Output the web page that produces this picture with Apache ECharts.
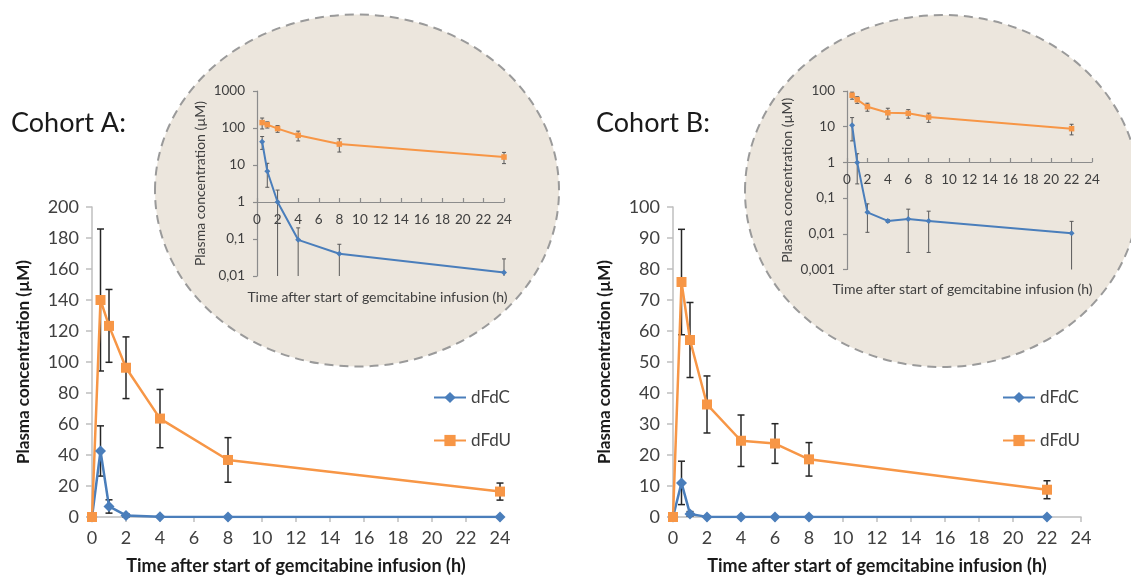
<!DOCTYPE html>
<html>
<head>
<meta charset="utf-8">
<script src="https://cdn.jsdelivr.net/npm/echarts@6/dist/echarts.min.js"></script>
<style>
html,body{margin:0;padding:0;background:#fff;}
#chart{width:1131px;height:580px;}
</style>
</head>
<body>
<div id="chart"></div>
<script>
// ---------- DATA ----------
const timesA = [0, 0.5, 1, 2, 4, 8, 24];
const dFdC_A = [0, 42.6, 6.8, 1.0, 0.095, 0.04, 0.0125];
const dFdC_A_sd = [0, 16.2, 4.3, 1.1, 0.105, 0.032, 0.0165];
const dFdU_A = [0, 140, 123.3, 96.3, 63.5, 36.8, 16.4];
const dFdU_A_sd = [0, 45.8, 23.5, 19.9, 18.8, 14.4, 5.5];

const timesB = [0, 0.5, 1, 2, 4, 6, 8, 22];
const dFdC_B = [0, 11, 1.0, 0.04, 0.023, 0.026, 0.023, 0.0103];
const dFdC_B_sd = [0, 7, 0.75, 0.029, 0.002, 0.023, 0.02, 0.012];
const dFdU_B = [0, 75.8, 57.1, 36.3, 24.6, 23.7, 18.6, 8.8];
const dFdU_B_sd = [0, 17, 12.1, 9.2, 8.3, 6.4, 5.4, 2.9];

const xTicks = [0, 2, 4, 6, 8, 10, 12, 14, 16, 18, 20, 22, 24];
const seriesNames = ['dFdC', 'dFdU'];
const titleA = 'Cohort A:';
const titleB = 'Cohort B:';
const xTitle = 'Time after start of gemcitabine infusion (h)';
const yTitle = 'Plasma concentration (µM)';

// ---------- STYLE ----------
const BLUE = '#4A7EBB', ORANGE = '#F79646';
const FONT = 'Lato';
const chart = echarts.init(document.getElementById('chart'), null, {renderer: 'canvas'});

const pairs = (ts, vs, skipZero) => ts.map((t, i) => [t, vs[i]]).filter(p => !skipZero || p[0] > 0);

function errSeries(xi, yi, ts, ms, sds, floor, cap, color, width, skipZero, z) {
  const data = [];
  ts.forEach((t, i) => {
    if (skipZero && t === 0) return;
    if (!(sds[i] > 0)) return;
    const lo = ms[i] - sds[i];
    data.push([t, floor != null ? Math.max(lo, floor) : lo, ms[i] + sds[i], (floor != null && lo <= floor) ? 1 : 0]);
  });
  return {
    type: 'custom', xAxisIndex: xi, yAxisIndex: yi, z: z, silent: true,
    encode: {x: 0, y: [1, 2]},
    data: data,
    renderItem: function (params, api) {
      const x = api.value(0);
      const top = api.coord([x, api.value(2)]);
      const bot = api.coord([x, api.value(1)]);
      const st = {stroke: color, lineWidth: width};
      const ch = [
        {type: 'line', shape: {x1: top[0], y1: top[1], x2: bot[0], y2: bot[1]}, style: st},
        {type: 'line', shape: {x1: top[0] - cap, y1: top[1], x2: top[0] + cap, y2: top[1]}, style: st}
      ];
      if (!api.value(3)) ch.push({type: 'line', shape: {x1: bot[0] - cap, y1: bot[1], x2: bot[0] + cap, y2: bot[1]}, style: st});
      return {type: 'group', children: ch};
    }
  };
}

function lineSeries(name, xi, yi, data, color, symbol, size, width) {
  return {
    name: name, type: 'line', xAxisIndex: xi, yAxisIndex: yi, data: data,
    symbol: symbol, symbolSize: size, showSymbol: true,
    lineStyle: {color: color, width: width},
    itemStyle: {color: color, borderWidth: 0},
    z: 3, emphasis: {disabled: true}
  };
}

const logFmt = v => String(Number(v.toPrecision(6))).replace('.', ',');

function mainX(gi) {
  return {
    gridIndex: gi, type: 'value', min: 0, max: 24, interval: 2,
    axisLine: {lineStyle: {color: '#BFBFBF', width: 1.5}},
    axisTick: {show: true, length: 5, lineStyle: {color: '#BFBFBF', width: 1.5}},
    axisLabel: {color: '#404040', fontSize: 18, fontFamily: FONT, margin: 12},
    splitLine: {show: false},
    name: xTitle, nameLocation: 'middle', nameGap: 40,
    nameTextStyle: {color: '#1a1a1a', fontSize: 18, fontWeight: 'bold', fontFamily: FONT}
  };
}
function mainY(gi, max, interval) {
  return {
    gridIndex: gi, type: 'value', min: 0, max: max, interval: interval,
    axisLine: {show: true, lineStyle: {color: '#BFBFBF', width: 1.5}},
    axisTick: {show: true, length: 6, lineStyle: {color: '#BFBFBF', width: 1.5}},
    axisLabel: {color: '#404040', fontSize: 18, fontFamily: FONT, margin: 13},
    splitLine: {show: false},
    name: yTitle, nameLocation: 'middle', nameGap: 60,
    nameTextStyle: {color: '#1a1a1a', fontSize: 17, fontWeight: 'bold', fontFamily: FONT}
  };
}
function insetXHidden(gi, gap, pad) {
  return {
    gridIndex: gi, type: 'value', min: 0, max: 24, interval: 2,
    axisLine: {show: false}, axisTick: {show: false}, axisLabel: {show: false}, splitLine: {show: false},
    name: xTitle, nameLocation: 'middle', nameGap: gap,
    nameTextStyle: {color: '#404040', fontSize: 14, fontFamily: FONT, padding: pad}
  };
}
function insetXShown(gi) {
  return {
    gridIndex: gi, type: 'value', min: 0, max: 24, interval: 2,
    axisLine: {lineStyle: {color: '#8C8C8C', width: 1.2}},
    axisTick: {show: true, inside: true, length: 4, lineStyle: {color: '#8C8C8C', width: 1.2}},
    axisLabel: {color: '#404040', fontSize: 13.5, fontFamily: FONT, margin: 11},
    splitLine: {show: false}
  };
}
function insetY(gi, min, max, gap) {
  return {
    gridIndex: gi, type: 'log', logBase: 10, min: min, max: max, interval: 1,
    axisLine: {show: true, lineStyle: {color: '#8C8C8C', width: 1.2}},
    axisTick: {show: true, length: 4, lineStyle: {color: '#8C8C8C', width: 1.2}},
    axisLabel: {color: '#404040', fontSize: 13.5, fontFamily: FONT, margin: 12, formatter: logFmt},
    splitLine: {show: false}, minorTick: {show: false},
    name: yTitle, nameLocation: 'middle', nameGap: gap,
    nameTextStyle: {color: '#404040', fontSize: 14, fontFamily: FONT}
  };
}
const hiddenY = gi => ({gridIndex: gi, type: 'value', min: 0, max: 1, show: false});

const option = {
  animation: false,
  backgroundColor: '#ffffff',
  textStyle: {fontFamily: FONT},
  graphic: {
    elements: [
      {type: 'ellipse', z: -10, shape: {cx: 357, cy: 190.5, rx: 202, ry: 176},
        style: {fill: '#ECE6DD', stroke: '#9A9A9A', lineWidth: 2, lineDash: [9, 6]}},
      {type: 'ellipse', z: -10, shape: {cx: 942, cy: 191, rx: 197, ry: 176},
        style: {fill: '#ECE6DD', stroke: '#9A9A9A', lineWidth: 2, lineDash: [9, 6]}},
      {type: 'text', left: 11, top: 110, style: {text: titleA, fontSize: 27, fontFamily: FONT, fill: '#1a1a1a'}},
      {type: 'text', left: 596, top: 110, style: {text: titleB, fontSize: 27, fontFamily: FONT, fill: '#1a1a1a'}}
    ]
  },
  legend: [
    {left: 428, top: 384, orient: 'vertical', itemWidth: 32, itemHeight: 14, itemGap: 26,
      data: seriesNames, textStyle: {fontSize: 17, color: '#404040', fontFamily: FONT}, selectedMode: false},
    {left: 997, top: 384, orient: 'vertical', itemWidth: 32, itemHeight: 14, itemGap: 26,
      data: seriesNames, textStyle: {fontSize: 17, color: '#404040', fontFamily: FONT}, selectedMode: false}
  ],
  grid: [
    {left: 92, top: 207, width: 408, height: 312},
    {left: 673, top: 207, width: 408, height: 312},
    {left: 257, top: 91, width: 247, height: 185},
    {left: 257, top: 91, width: 247, height: 111},
    {left: 847, top: 91, width: 245, height: 178.5},
    {left: 847, top: 91, width: 245, height: 71}
  ],
  xAxis: [mainX(0), mainX(1), insetXHidden(2, 14, [0, 6, 0, 0]), insetXShown(3), insetXHidden(4, 13, [0, 14, 0, 0]), insetXShown(5)],
  yAxis: [mainY(0, 200, 20), mainY(1, 100, 10), insetY(2, 0.01, 1000, 50), hiddenY(3), insetY(4, 0.001, 100, 53), hiddenY(5)],
  series: [
    // main A
    errSeries(0, 0, timesA, dFdC_A, dFdC_A_sd, null, 3.5, '#262626', 1.5, false, 2),
    errSeries(0, 0, timesA, dFdU_A, dFdU_A_sd, null, 3.5, '#262626', 1.5, false, 2),
    lineSeries('dFdC', 0, 0, pairs(timesA, dFdC_A), BLUE, 'diamond', 11, 2.5),
    lineSeries('dFdU', 0, 0, pairs(timesA, dFdU_A), ORANGE, 'rect', 10, 2.5),
    // main B
    errSeries(1, 1, timesB, dFdC_B, dFdC_B_sd, null, 3.5, '#262626', 1.5, false, 2),
    errSeries(1, 1, timesB, dFdU_B, dFdU_B_sd, null, 3.5, '#262626', 1.5, false, 2),
    lineSeries('dFdC', 1, 1, pairs(timesB, dFdC_B), BLUE, 'diamond', 11, 2.5),
    lineSeries('dFdU', 1, 1, pairs(timesB, dFdU_B), ORANGE, 'rect', 10, 2.5),
    // inset A (log)
    errSeries(2, 2, timesA, dFdC_A, dFdC_A_sd, 0.01, 2, '#595959', 1, true, 2),
    errSeries(2, 2, timesA, dFdU_A, dFdU_A_sd, 0.01, 2, '#595959', 1, true, 2),
    lineSeries('dFdC', 2, 2, pairs(timesA, dFdC_A, true), BLUE, 'diamond', 6, 2),
    lineSeries('dFdU', 2, 2, pairs(timesA, dFdU_A, true), ORANGE, 'rect', 5.5, 2),
    // inset B (log)
    errSeries(4, 4, timesB, dFdC_B, dFdC_B_sd, 0.001, 2, '#595959', 1, true, 2),
    errSeries(4, 4, timesB, dFdU_B, dFdU_B_sd, 0.001, 2, '#595959', 1, true, 2),
    lineSeries('dFdC', 4, 4, pairs(timesB, dFdC_B, true), BLUE, 'diamond', 6, 2),
    lineSeries('dFdU', 4, 4, pairs(timesB, dFdU_B, true), ORANGE, 'rect', 5.5, 2)
  ]
};
chart.setOption(option);
</script>
</body>
</html>
